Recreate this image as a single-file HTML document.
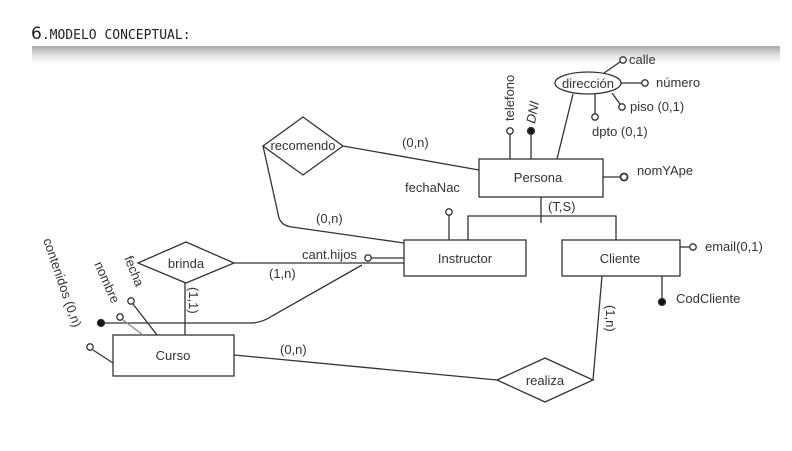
<!DOCTYPE html>
<html><head><meta charset="utf-8"><style>
html,body{margin:0;padding:0;background:#fff;}
svg{display:block}
text{font-family:"Liberation Sans",sans-serif;font-size:13px;fill:#333}
</style></head><body>
<svg width="792" height="451" viewBox="0 0 792 451" xmlns="http://www.w3.org/2000/svg">
<defs>
<linearGradient id="g" x1="0" y1="0" x2="0" y2="1">
<stop offset="0" stop-color="#a8a8a8"/><stop offset="0.5" stop-color="#e0e0e0"/><stop offset="1" stop-color="#fff"/>
</linearGradient>
</defs>
<rect x="32" y="46" width="748" height="18" fill="url(#g)"/>
<text x="31" y="39" style="font-family:'DejaVu Sans Mono','Liberation Mono',monospace;font-size:13px;fill:#222"><tspan style="font-family:'DejaVu Sans',sans-serif;font-size:17px">6</tspan>.MODELO CONCEPTUAL:</text>

<g stroke="#333" stroke-width="1.3" fill="none">
<rect x="479" y="159" width="124" height="38" fill="#fff"/>
<rect x="404" y="240" width="122" height="36" fill="#fff"/>
<rect x="562" y="240" width="118" height="36" fill="#fff"/>
<rect x="113" y="335" width="121" height="41" fill="#fff"/>
<polygon points="303,117 343,146 303,175 263,146" fill="#fff"/>
<polygon points="186,242 234,263 186,283 138,263" fill="#fff"/>
<polygon points="545,358 593,380 545,402 497,380" fill="#fff"/>
<ellipse cx="588" cy="83" rx="33" ry="11" fill="#fff"/>
<line x1="604" y1="73" x2="620" y2="62"/><circle cx="623" cy="60" r="3.2" fill="#fff"/>
<line x1="621" y1="83" x2="642" y2="83"/><circle cx="645" cy="83" r="3.2" fill="#fff"/>
<line x1="612" y1="93" x2="620" y2="104"/><circle cx="622" cy="107" r="3.2" fill="#fff"/>
<line x1="595" y1="94" x2="595" y2="114"/><circle cx="595" cy="117" r="3.2" fill="#fff"/>
<line x1="573" y1="94" x2="557" y2="159"/>
<line x1="510" y1="134" x2="510" y2="159"/><circle cx="510" cy="131" r="3.2" fill="#fff"/>
<line x1="531" y1="134" x2="531" y2="159"/><circle cx="531" cy="131" r="3.5" fill="#111"/>
<line x1="603" y1="177" x2="621" y2="177"/><circle cx="624" cy="177" r="3.5" fill="#fff" stroke-width="1.8"/>
<line x1="541" y1="197" x2="541" y2="223"/>
<polyline points="468,240 468,216 616,216 616,240"/>
<line x1="449" y1="215" x2="449" y2="240"/><circle cx="449" cy="212" r="3.2" fill="#fff"/>
<line x1="680" y1="247" x2="690" y2="247"/><circle cx="693" cy="247" r="3.2" fill="#fff"/>
<line x1="662" y1="276" x2="662" y2="300"/><circle cx="662" cy="302" r="3.5" fill="#111"/>
<line x1="343" y1="146" x2="479" y2="170"/>
<path d="M263,146 L279,218 Q282,226 292,227 L404,243"/>
<line x1="371" y1="258" x2="404" y2="258"/><circle cx="368" cy="258" r="3.2" fill="#fff"/>
<line x1="234" y1="263" x2="404" y2="263"/>
<line x1="185" y1="283" x2="185" y2="335"/>
<path d="M101,323 L250,323 Q262,323 272,316 L362,265"/>
<circle cx="101" cy="323" r="3.5" fill="#111"/>
<line x1="133" y1="304" x2="157" y2="335" /><circle cx="131" cy="301" r="3.2" fill="#fff"/>
<line x1="123" y1="320" x2="143" y2="335" stroke="#888"/><circle cx="120" cy="317" r="3.2" fill="#fff"/>
<line x1="93" y1="350" x2="113" y2="363"/><circle cx="90" cy="347" r="3.2" fill="#fff"/>
<line x1="234" y1="355" x2="497" y2="380"/>
<line x1="602" y1="276" x2="593" y2="380"/>
</g>

<text x="538" y="182" text-anchor="middle" font-size="14">Persona</text>
<text x="465" y="263" text-anchor="middle" font-size="14">Instructor</text>
<text x="620" y="263" text-anchor="middle" font-size="14">Cliente</text>
<text x="173" y="360" text-anchor="middle" font-size="14">Curso</text>
<text x="303" y="150" text-anchor="middle">recomendo</text>
<text x="186" y="268" text-anchor="middle">brinda</text>
<text x="545" y="385" text-anchor="middle">realiza</text>
<text x="588" y="88" text-anchor="middle">dirección</text>
<text x="629" y="64">calle</text>
<text x="656" y="87">número</text>
<text x="630" y="111">piso (0,1)</text>
<text x="592" y="136">dpto (0,1)</text>
<text transform="translate(514,121) rotate(-90)">telefono</text>
<text transform="translate(535,124) rotate(-80)" font-style="italic">DNI</text>
<text x="637" y="175">nomYApe</text>
<text x="548" y="211">(T,S)</text>
<text x="405" y="192">fechaNac</text>
<text x="705" y="251">email(0,1)</text>
<text x="676" y="303">CodCliente</text>
<text x="402" y="147">(0,n)</text>
<text x="316" y="223">(0,n)</text>
<text x="302" y="259">cant.hijos</text>
<text x="269" y="278">(1,n)</text>
<text transform="translate(189,287) rotate(90)">(1,1)</text>
<text x="280" y="354">(0,n)</text>
<text transform="translate(606,305) rotate(90)">(1,n)</text>
<text transform="translate(124,258) rotate(68)">fecha</text>
<text transform="translate(94,264) rotate(66)">nombre</text>
<text transform="translate(43,240) rotate(71)">contenidos (0,n)</text>
</svg>
</body></html>
